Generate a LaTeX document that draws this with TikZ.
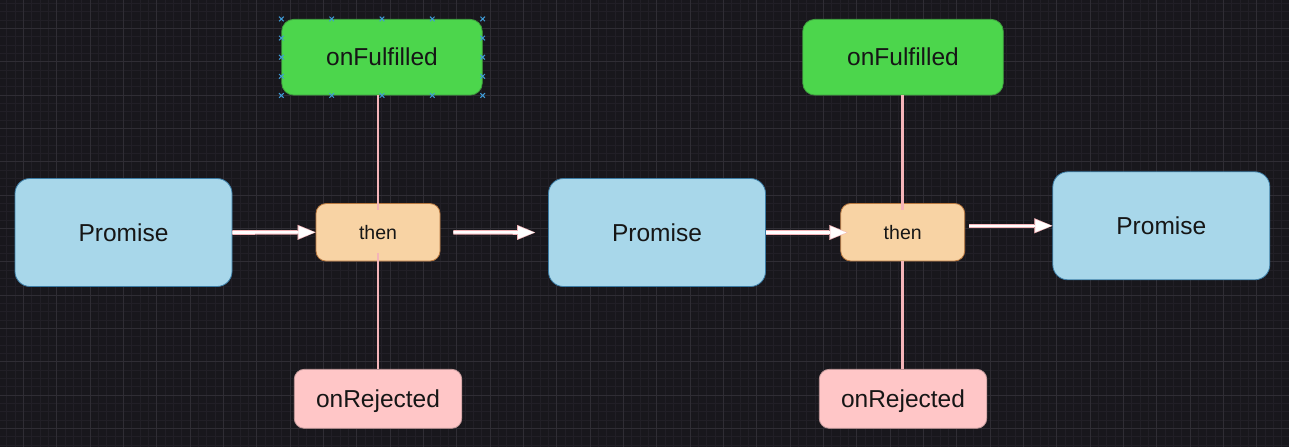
\documentclass[tikz,border=0pt]{standalone}
\usepackage{fontspec}
\setmainfont{Liberation Sans}
\usetikzlibrary{arrows.meta,calc}
\definecolor{bg}{HTML}{18171C}
\definecolor{gridminor}{HTML}{211F26}
\definecolor{gridmajor}{HTML}{2F2D34}
\definecolor{promisefill}{HTML}{A8D7EA}
\definecolor{promisedraw}{HTML}{3C7DA6}
\definecolor{thenfill}{HTML}{F8D3A4}
\definecolor{thendraw}{HTML}{B9783E}
\definecolor{fulfillfill}{HTML}{4CD64C}
\definecolor{fulfilldraw}{HTML}{3E9E3E}
\definecolor{rejectfill}{HTML}{FFC6C7}
\definecolor{rejectdraw}{HTML}{C49A9B}
\definecolor{linkpink}{HTML}{F4B4B8}
\definecolor{handleblue}{HTML}{3F9BD6}
\definecolor{labeltext}{HTML}{161616}
\newcommand\FlowArrow[2]{%
  \draw[arrowouter] #1 -- #2;
  \draw[arrowinner] #1 -- #2;
}
\begin{document}
\begin{tikzpicture}[x=1pt,y=-1pt,
  box/.style={rectangle, line width=0.8pt, inner sep=0pt, text=labeltext, align=center},
  bigtext/.style={font=\fontsize{24.5}{28}\selectfont, text height=17pt, text depth=0pt},
  promisebox/.style={box, bigtext, fill=promisefill, draw=promisedraw, rounded corners=15pt, minimum width=217pt, minimum height=108pt},
  thenbox/.style={box, fill=thenfill, draw=thendraw, rounded corners=10pt, minimum width=124pt, minimum height=57.5pt, font=\fontsize{19.5}{23}\selectfont, text height=15pt, text depth=0pt},
  fulfilledbox/.style={box, bigtext, fill=fulfillfill, draw=fulfilldraw, rounded corners=12pt, minimum width=200.5pt, minimum height=75.7pt},
  rejectedbox/.style={box, bigtext, fill=rejectfill, draw=rejectdraw, rounded corners=10pt, minimum width=167.5pt, minimum height=59pt},
  link/.style={draw=linkpink, line width=2.9pt},
  arrowouter/.style={line width=4.6pt, draw=linkpink, -{Triangle[length=18pt,width=15pt,line width=0.1pt]}},
  arrowinner/.style={line width=2.6pt, draw=white, shorten >=1pt, -{Triangle[length=16pt,width=12.5pt,line width=0.1pt]}},
  handle/.style={draw=handleblue, line width=1pt},
  gridminorline/.style={draw=gridminor, line width=0.7pt},
  gridmajorline/.style={draw=gridmajor, line width=0.9pt}
]
\fill[bg] (0,0) rectangle (1289,447);
\useasboundingbox (0,0) rectangle (1289,447);
% grid
\foreach \i in {-2,...,152} {\draw[gridminorline] ({23.333+8.3333*\i},0) -- ({23.333+8.3333*\i},447);}
\foreach \j in {-3,...,50} {\draw[gridminorline] (0,{28.333+8.3333*\j}) -- (1289,{28.333+8.3333*\j});}
\foreach \i in {0,...,38} {\draw[gridmajorline] ({23.333+33.333*\i},0) -- ({23.333+33.333*\i},447);}
\foreach \j in {0,...,12} {\draw[gridmajorline] (0,{28.333+33.333*\j}) -- (1289,{28.333+33.333*\j});}

% nodes
\node[promisebox] (p1) at (123.5,232.5) {Promise};
\node[thenbox] (then1) at (378,232.3) {then};
\node[fulfilledbox] (onF1) at (382,57.2) {onFulfilled};
\node[rejectedbox] (onR1) at (378,398.8) {onRejected};
\node[promisebox] (p2) at (657,232.5) {Promise};
\node[thenbox] (then2) at (902.7,232.2) {then};
\node[fulfilledbox] (onF2) at (903,57.2) {onFulfilled};
\node[rejectedbox] (onR2) at (903,398.8) {onRejected};
\node[promisebox] (p3) at (1161.3,225.8) {Promise};

% links
\draw[link] (then1.north |- onF1.south) -- ([yshift=-7pt]then1.north);
\draw[link] ([yshift=8pt]then1.south) -- (then1.south |- onR1.north);
\draw[link] (then2.north |- onF2.south) -- ([yshift=-7pt]then2.north);
\draw[link] (then2.south) -- (then2.south |- onR2.north);

% arrows
\FlowArrow{(p1.east)}{(then1.west)}
\FlowArrow{([xshift=13pt]then1.east)}{([xshift=-13pt]p2.west)}
\FlowArrow{(p2.east)}{([xshift=7pt]then2.west |- p2.east)}
\FlowArrow{([xshift=4pt]then2.east |- p3.west)}{(p3.west)}

% selection handles
\foreach \t in {0,0.25,0.5,0.75,1} {
  \draw[handle] ($(onF1.north west)!\t!(onF1.north east)$) +(-2.3,-2.3) -- +(2.3,2.3) +(-2.3,2.3) -- +(2.3,-2.3);
  \draw[handle] ($(onF1.south west)!\t!(onF1.south east)$) +(-2.3,-2.3) -- +(2.3,2.3) +(-2.3,2.3) -- +(2.3,-2.3);
}
\foreach \t in {0.25,0.5,0.75} {
  \draw[handle] ($(onF1.north west)!\t!(onF1.south west)$) +(-2.3,-2.3) -- +(2.3,2.3) +(-2.3,2.3) -- +(2.3,-2.3);
  \draw[handle] ($(onF1.north east)!\t!(onF1.south east)$) +(-2.3,-2.3) -- +(2.3,2.3) +(-2.3,2.3) -- +(2.3,-2.3);
}
\end{tikzpicture}
\end{document}
